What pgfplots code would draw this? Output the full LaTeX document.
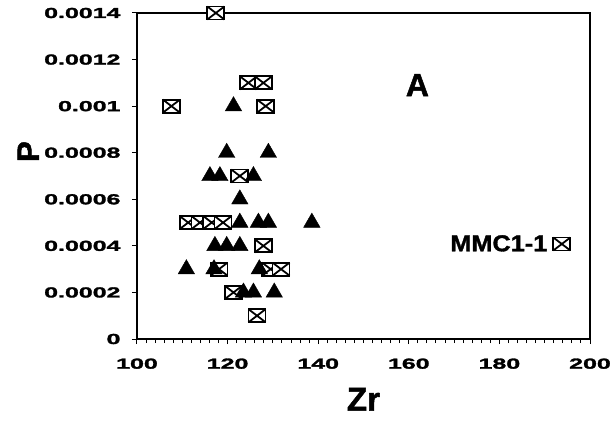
\documentclass[border=0pt]{standalone}
\usepackage{fontspec}
\setmainfont{Liberation Sans}
\newfontfamily\tickfont{Liberation Sans}[FakeStretch=1.72, FakeBold=2]
\newfontfamily\legfont{Liberation Sans}[FakeStretch=1.1, FakeBold=1.5]
\newfontfamily\labfont{Liberation Sans}[FakeBold=1.5]
\usepackage{pgfplots}
\pgfplotsset{compat=1.18}

\pgfdeclareplotmark{boxx}{%
  \pgfpathrectangle{\pgfpoint{-8.5pt}{-6.5pt}}{\pgfpoint{17pt}{13pt}}%
  \pgfusepathqfillstroke
  \pgfpathmoveto{\pgfpoint{-8.5pt}{-6.5pt}}\pgfpathlineto{\pgfpoint{8.5pt}{6.5pt}}%
  \pgfpathmoveto{\pgfpoint{-8.5pt}{6.5pt}}\pgfpathlineto{\pgfpoint{8.5pt}{-6.5pt}}%
  \pgfusepathqstroke
}

\begin{document}
\begin{tikzpicture}
\useasboundingbox (-137pt,-102pt) rectangle (473pt,339pt);
\begin{axis}[
  at={(0pt,0pt)}, anchor=south west,
  scale only axis,
  width=453pt, height=326pt,
  xmin=100, xmax=200, ymin=0, ymax=0.0014,
  clip=false,
  axis line style={line width=1.3pt},
  tick pos=left,
  tick align=outside,
  major tick length=5pt,
  minor tick length=4pt,
  every tick/.style={black, line width=1pt},
  xtick={100,120,140,160,180,200},
  xticklabels={100,120,140,160,180,200},
  minor x tick num=9,
  ytick={0,0.0002,0.0004,0.0006,0.0008,0.001,0.0012,0.0014},
  yticklabels={0,0.0002,0.0004,0.0006,0.0008,0.001,0.0012,0.0014},
  scaled y ticks=false,
  tick label style={font=\tickfont\bfseries\fontsize{14.5}{15}\selectfont},
  xticklabel style={yshift=-11pt},
  yticklabel style={xshift=-8pt},
  xlabel={Zr},
  ylabel={P},
  xlabel style={font=\labfont\bfseries\fontsize{33}{34}\selectfont, at={(axis description cs:0.5,-0.185)}, anchor=center},
  ylabel style={font=\labfont\bfseries\fontsize{31}{32}\selectfont, at={(axis description cs:-0.24,0.575)}, anchor=center},
  legend plot pos=right,
  legend style={draw=none, fill=none, at={(axis cs:195.7,0.000408)}, anchor=east,
    inner sep=0pt, column sep=4pt, font=\legfont\bfseries\fontsize{23}{24}\selectfont},
]
\addplot[only marks, mark=boxx, mark options={draw=black, fill=white, line width=1.8pt}] coordinates {
  (117.4,0.0014)
  (124.6,0.0011) (127.9,0.0011)
  (107.6,0.001) (128.4,0.001)
  (122.7,0.0007)
  (111.3,0.0005) (113.9,0.0005) (116.5,0.0005) (119.0,0.0005)
  (127.9,0.0004)
  (118.1,0.0003) (129.5,0.0003) (131.8,0.0003)
  (121.3,0.0002)
  (126.5,0.0001)
};
\addlegendentry{MMC1-1}
\addplot[forget plot, only marks, mark=triangle*, mark size=9.5pt, mark options={draw=black, fill=black}] coordinates {
  (121.3,0.001)
  (119.8,0.0008) (129.0,0.0008)
  (116.1,0.0007) (118.3,0.0007) (125.7,0.0007)
  (122.7,0.0006)
  (122.7,0.0005) (126.8,0.0005) (129.0,0.0005) (138.6,0.0005)
  (117.2,0.0004) (119.8,0.0004) (122.7,0.0004)
  (110.9,0.0003) (117.0,0.0003) (127.0,0.0003)
  (123.5,0.0002) (125.7,0.0002) (130.3,0.0002)
};
\node[font=\labfont\bfseries\fontsize{32}{33}\selectfont, anchor=center] at (axis cs:161.9,0.00109) {A};
\end{axis}
\end{tikzpicture}
\end{document}
